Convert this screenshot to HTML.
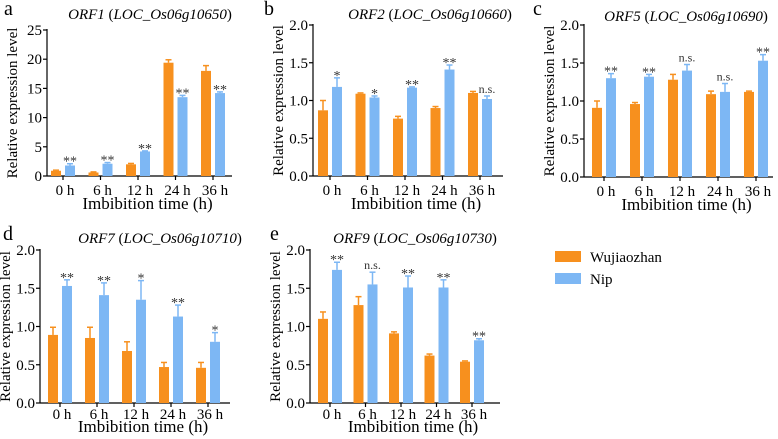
<!DOCTYPE html>
<html><head><meta charset="utf-8"><style>
body{margin:0;background:#fff;font-family:"Times New Roman","Liberation Serif",Times,"DejaVu Serif",serif}
svg{display:block}
svg text{font-family:"Times New Roman","Liberation Serif",Times,"DejaVu Serif",serif}
</style></head><body>
<svg id="fig" width="778" height="439" viewBox="0 0 778 439" xmlns="http://www.w3.org/2000/svg">
<g>
<rect x="555" y="251" width="26" height="11" fill="#F7901E"/>
<text x="590" y="262" font-size="15">Wujiaozhan</text>
<rect x="555" y="273" width="26" height="11" fill="#7DB7F4"/>
<text x="590" y="284" font-size="15">Nip</text>
</g>
</svg>
<script>
const categories = ["0 h","6 h","12 h","24 h","36 h"];
const aWu = [0.9,0.6,2.0,19.4,18.0];
const aWuErr = [0.1,0.1,0.15,0.5,0.9];
const aNip = [1.8,2.1,4.2,13.5,14.2];
const aNipErr = [0.3,0.2,0.1,0.3,0.2];
const aSig = ["**","**","**","**","**"];
const bWu = [0.87,1.09,0.76,0.90,1.10];
const bWuErr = [0.13,0.01,0.03,0.02,0.02];
const bNip = [1.18,1.04,1.17,1.41,1.02];
const bNipErr = [0.12,0.02,0.01,0.06,0.04];
const bSig = ["*","*","**","**","n.s."];
const cWu = [0.91,0.96,1.28,1.09,1.12];
const cWuErr = [0.09,0.02,0.07,0.04,0.01];
const cNip = [1.30,1.32,1.40,1.12,1.53];
const cNipErr = [0.06,0.03,0.08,0.11,0.08];
const cSig = ["**","**","n.s.","n.s.","**"];
const dWu = [0.89,0.85,0.68,0.47,0.46];
const dWuErr = [0.10,0.14,0.12,0.06,0.07];
const dNip = [1.53,1.41,1.35,1.13,0.80];
const dNipErr = [0.08,0.16,0.25,0.15,0.12];
const dSig = ["**","**","*","**","*"];
const eWu = [1.10,1.28,0.91,0.62,0.54];
const eWuErr = [0.09,0.11,0.02,0.02,0.01];
const eNip = [1.74,1.55,1.51,1.51,0.82];
const eNipErr = [0.10,0.16,0.15,0.10,0.02];
const eSig = ["**","n.s.","**","**","**"];
const ticksA = [0,5,10,15,20,25];
const ticksB = [0.0,0.5,1.0,1.5,2.0];

const NS="http://www.w3.org/2000/svg";
const svg=document.getElementById('fig');
function mk(tag,attrs,parent){const e=document.createElementNS(NS,tag);for(const k in attrs)e.setAttribute(k,attrs[k]);(parent||svg).appendChild(e);return e;}
const OR="#F7901E", BL="#7DB7F4";

function panel(p){
  const g=mk('g',{});
  
  
  const ymax=p.ticks[p.ticks.length-1];
  const yS=v=>p.y0-(v/ymax)*(p.y0-p.yt);
  const xS=i=>p.first+i*p.step;
  const fmt=v=>p.dec?v.toFixed(1):String(v);
  let t=mk('text',{x:p.lx,y:p.ly,'font-size':20},g);t.textContent=p.id;
  
  t=mk('text',{x:p.tx,y:p.ty,'font-size':15,'font-style':'italic','text-anchor':'middle'},g);
  t.innerHTML=p.gene+' <tspan font-style="normal">(</tspan>'+p.loc+'<tspan font-style="normal">)</tspan>';
  
  let l=mk('line',{x1:p.ax,y1:p.yt-1,x2:p.ax,y2:p.y0,stroke:'#000','stroke-width':1.2},g);
  
  l=mk('line',{x1:p.ax,y1:p.y0,x2:p.end,y2:p.y0,stroke:'#000','stroke-width':1.2},g);
  
  p.ticks.forEach(v=>{
    const y=yS(v);
    mk('line',{x1:p.ax-4,y1:y,x2:p.ax,y2:y,stroke:'#000','stroke-width':1.2},g);
    const tt=mk('text',{x:p.ax-5,y:y+5,'font-size':15,'text-anchor':'end'},g);tt.textContent=fmt(v);
    
  });
  const yt=mk('text',{transform:`translate(${p.ax-30},${(p.y0+p.yt)/2}) rotate(-90)`,'font-size':15,'text-anchor':'middle'},g);
  yt.textContent='Relative expression level';
  
  categories.forEach((c,i)=>{
    const cx=xS(i);
    mk('line',{x1:cx,y1:p.y0,x2:cx,y2:p.y0+4,stroke:'#000','stroke-width':1.2},g);
    const tt=mk('text',{x:cx+2,y:p.y0+p.tk,'font-size':15,'text-anchor':'middle'},g);tt.textContent=c;
    
    [[p.wu[i],p.wuE[i],cx-7,OR,'wujiaozhan'],[p.nip[i],p.nipE[i],cx+7,BL,'nip']].forEach(([v,e,bx,col,nm])=>{
      const yv=yS(v), ye=yS(v+e);
      mk('line',{x1:bx,y1:yv,x2:bx,y2:ye,stroke:col,'stroke-width':1.5},g);
      mk('line',{x1:bx-3,y1:ye,x2:bx+3,y2:ye,stroke:col,'stroke-width':1.5},g);
      const r=mk('rect',{x:bx-5,y:yv,width:10,height:p.y0-yv,fill:col},g);
      
      
    });
    const s=p.sig[i];
    const st=mk('text',{x:cx+7,y:yS(p.nip[i]+p.nipE[i])-(s==='n.s.'?3:-2),'font-size':s==='n.s.'?12:14,'text-anchor':'middle',fill:'#333'},g);
    st.textContent=s;
    
  });
  const xt=mk('text',{x:(p.ax+p.end)/2+8,y:p.y0+p.tt,'font-size':17,'text-anchor':'middle'},g);
  xt.textContent='Imbibition time  (h)';
  
}
panel({id:'a',gene:'ORF1',loc:'LOC_Os06g10650',ax:47,y0:176,yt:30,first:63,step:37.5,end:232,ticks:ticksA,dec:false,wu:aWu,wuE:aWuErr,nip:aNip,nipE:aNipErr,sig:aSig,lx:4,ly:15,tx:150,ty:19,tk:19,tt:33});
panel({id:'b',gene:'ORF2',loc:'LOC_Os06g10660',ax:313,y0:176,yt:25,first:330,step:37.5,end:503,ticks:ticksB,dec:true,wu:bWu,wuE:bWuErr,nip:bNip,nipE:bNipErr,sig:bSig,lx:264,ly:15,tx:430,ty:19,tk:19,tt:33});
panel({id:'c',gene:'ORF5',loc:'LOC_Os06g10690',ax:584,y0:177,yt:25,first:604,step:38,end:773,ticks:ticksB,dec:true,wu:cWu,wuE:cWuErr,nip:cNip,nipE:cNipErr,sig:cSig,lx:533,ly:15,tx:686,ty:21,tk:19,tt:33});
panel({id:'d',gene:'ORF7',loc:'LOC_Os06g10710',ax:40,y0:403,yt:250,first:60,step:37,end:230,ticks:ticksB,dec:true,wu:dWu,wuE:dWuErr,nip:dNip,nipE:dNipErr,sig:dSig,lx:3,ly:240,tx:160,ty:243,tk:16,tt:29});
panel({id:'e',gene:'ORF9',loc:'LOC_Os06g10730',ax:310,y0:403,yt:250,first:330,step:35.5,end:500,ticks:ticksB,dec:true,wu:eWu,wuE:eWuErr,nip:eNip,nipE:eNipErr,sig:eSig,lx:270,ly:240,tx:415,ty:243,tk:16,tt:29});
</script>
</body></html>
